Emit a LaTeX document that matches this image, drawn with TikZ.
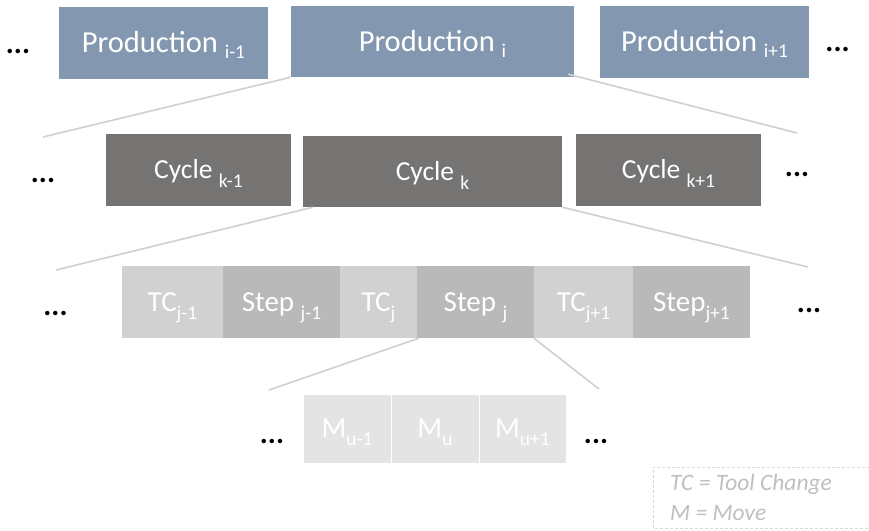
\documentclass[tikz,border=0pt]{standalone}
\usepackage{fontspec}
\setmainfont{Carlito}
\usetikzlibrary{calc}
\definecolor{prodc}{HTML}{8497B0}
\definecolor{cycc}{HTML}{767473}
\definecolor{tcc}{HTML}{D1D1D1}
\definecolor{stepc}{HTML}{B9B9B9}
\definecolor{mc}{HTML}{E4E4E4}
\definecolor{linec}{HTML}{D0D0D0}
\definecolor{legc}{HTML}{BFBFBF}
\definecolor{legb}{HTML}{D9D9D9}
\newcommand{\sbs}[2][7.5pt]{\raisebox{-#1}{\fontsize{19.5}{20}\selectfont #2}}
\begin{document}
\begin{tikzpicture}[x=1pt,y=-1pt,
  box/.style={rectangle, inner sep=0pt, text=white, font=\fontsize{29}{30}\selectfont,
    text height=18.4pt, text depth=0pt, anchor=center},
  prod/.style={box, fill=prodc, font=\fontsize{30.5}{31}\selectfont, text height=19.4pt},
  cyc/.style={box, fill=cycc, font=\fontsize{27.5}{28}\selectfont, text height=17.2pt},
  tcbox/.style={box, fill=tcc},
  stepbox/.style={box, fill=stepc},
  mbox/.style={box, fill=mc, draw=white, line width=1pt},
  dots/.style={anchor=base, inner sep=0pt, font=\bfseries\fontsize{30}{30}\selectfont},
  conn/.style={draw=linec, line width=1.6pt},
  legtext/.style={anchor=base west, inner sep=0pt, text=legc, font=\itshape\fontsize{23.5}{24}\selectfont}
]
\useasboundingbox (0,0) rectangle (869,530);
% Production row
\node[prod, minimum width=209pt, minimum height=72pt] (P1) at (163.5,43) {Production \sbs[6pt]{i-1}};
\node[prod, minimum width=283pt, minimum height=71pt] (P2) at (432.5,41.5) {Production \sbs[6pt]{i}};
\node[prod, minimum width=209pt, minimum height=72pt] (P3) at (704.5,42) {Production \sbs[6pt]{i+1}};
\node[dots] (d1) at (18,53) {...};
\node[dots] (d2) at (837.5,51.5) {...};
% Cycle row
\node[cyc, minimum width=185pt, minimum height=72pt] (C1) at (198.5,170) {Cycle \sbs[9pt]{k-1}};
\node[cyc, minimum width=259pt, minimum height=71pt] (C2) at (432.5,171.5) {Cycle \sbs[9pt]{k}};
\node[cyc, minimum width=185pt, minimum height=72pt] (C3) at (668.5,170) {Cycle \sbs[9pt]{k+1}};
\node[dots] (d3) at (43,182) {...};
\node[dots] (d4) at (797,176) {...};
% Step row
\node[tcbox, minimum width=101pt, minimum height=72pt] (T1) at (172.5,302) {TC\sbs[8pt]{j-1}};
\node[stepbox, minimum width=117pt, minimum height=72pt] (S1) at (281.5,302) {Step \sbs[8pt]{j-1}};
\node[tcbox, minimum width=77pt, minimum height=72pt] (T2) at (378.5,302) {TC\sbs[8pt]{j}};
\node[stepbox, minimum width=117pt, minimum height=72pt] (S2) at (475.5,302) {Step \sbs[8pt]{j}};
\node[tcbox, minimum width=99pt, minimum height=72pt] (T3) at (583.5,302) {TC\sbs[8pt]{j+1}};
\node[stepbox, minimum width=117pt, minimum height=72pt] (S3) at (691.5,302) {Step\sbs[8pt]{j+1}};
\node[dots] (d5) at (55.5,315) {...};
\node[dots] (d6) at (809,312) {...};
% Move row
\node[mbox, minimum width=88pt, minimum height=69pt] (M1) at (347,428.5) {M\sbs{u-1}};
\node[mbox, minimum width=88pt, minimum height=69pt] (M2) at (435,428.5) {M\sbs{u}};
\node[mbox, minimum width=87pt, minimum height=69pt] (M3) at (522.5,428.5) {M\sbs{u+1}};
\node[dots] (d7) at (272,443) {...};
\node[dots] (d8) at (596,443) {...};
% connector ends
\coordinate (e1) at (43,137);
\coordinate (e2) at (797,133);
\coordinate (e3) at (56,270);
\coordinate (e4) at (808,267);
\coordinate (e5) at (269,390);
\coordinate (e6) at (599,389);
\draw[conn] (P2.south west) -- (e1);
\draw[conn] ($(P2.south east)+(-6,-3)$) -- (e2);
\draw[conn] ($(C2.south west)+(10,0)$) -- (e3);
\draw[conn] (C2.south east) -- (e4);
\draw[conn] ($(S2.south west)+(2,0)$) -- (e5);
\draw[conn] (T3.south west) -- (e6);
% legend
\draw[draw=legb, line width=0.8pt, dash pattern=on 3pt off 2pt] (870,467) -- (653,467) -- (653,528) -- (870,528);
\node[legtext] (L1) at (670,490) {TC = Tool Change};
\node[legtext] (L2) at (670,520) {M = Move};
\end{tikzpicture}
\end{document}
